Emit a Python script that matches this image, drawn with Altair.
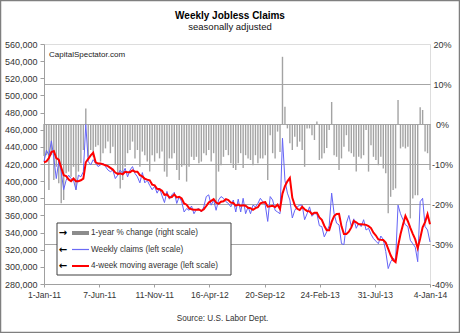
import altair as alt
import pandas as pd

# ---------------- data ----------------
first_week = "2011-01-01"          # weekly observations, week-ending dates
n_weeks = 158

# weekly initial claims, thousands (blue, left scale)
weekly_claims = [
    423, 436, 430, 447, 427, 403, 423, 411, 390, 401,
    407, 403, 401, 390, 407, 405, 411, 466, 423, 419,
    425, 421, 417, 419, 421, 417, 413, 411, 413, 403,
    407, 413, 409, 415, 405, 413, 417, 409, 405, 398,
    410, 398, 401, 395, 390, 394, 386, 392, 383, 375,
    388, 379, 384, 387, 374, 382, 376, 364, 368, 366,
    371, 362, 367, 368, 364, 370, 382, 384, 372, 378,
    366, 378, 382, 380, 376, 374, 370, 378, 364, 379,
    364, 380, 362, 370, 362, 372, 370, 374, 380, 376,
    372, 353, 382, 378, 366, 364, 362, 450, 401, 386,
    378, 357, 366, 370, 372, 372, 355, 362, 370, 359,
    362, 362, 348, 347, 335, 341, 348, 386, 362, 351,
    349, 327, 326, 351, 360, 347, 356, 345, 351, 347,
    355, 343, 345, 338, 333, 330, 327, 336, 332, 318,
    298, 306, 310, 308, 372, 362, 355, 349, 347, 331,
    327, 323, 306, 376, 380, 347, 343, 329,
]

# 4-week moving average, thousands (red, left scale)
moving_avg_4wk = [
    422, 423, 427, 434, 435, 427, 425, 416, 407, 406,
    402, 400, 403, 400, 400, 401, 403, 422, 426, 430,
    433, 422, 420.5, 420.5, 419.5, 418.5, 417.5, 415.5, 413.5, 410,
    408.5, 409, 408, 411, 410.5, 410.5, 412.5, 411, 411, 407,
    405.5, 402.75, 401.75, 401, 396, 395, 391, 390.5, 388.75, 384,
    384.5, 381, 381.5, 384.5, 381, 381.75, 379.75, 374, 372.5, 368.5,
    367.25, 366.75, 366.5, 367, 365.25, 367.25, 371, 375, 377, 379,
    375, 373.5, 376, 376.5, 379, 378, 375, 374.5, 371.5, 372.75,
    371.25, 371.75, 371.25, 369, 368.5, 366.5, 368.5, 369.5, 374, 375,
    375.5, 370.25, 370.75, 371.25, 369.75, 372.5, 367.5, 385.5, 394.25, 399.75,
    403.75, 380.5, 371.75, 367.75, 366.25, 370, 367.25, 365.25, 364.75, 361.5,
    363.25, 363.25, 357.75, 354.75, 348, 342.75, 342.75, 352.5, 359.25, 361.75,
    362, 347.25, 338.25, 338.25, 341, 346, 353.5, 352, 349.75, 349.75,
    349.5, 349, 347.5, 345.25, 339.75, 336.5, 332, 331.5, 331.25, 328.25,
    321, 313.5, 308, 305.5, 324, 338, 349.25, 359.5, 353.25, 345.5,
    338.5, 332, 321.75, 333, 346.25, 352.25, 361.5, 349.75,
]

# 1-year % change of weekly claims (gray bars, right scale)
yoy_pct_change = [
    -8, -7.8, -16.5, -7.8, -14, -10.7, -14.8, -19.8, -19, -12.3,
    -11.9, -13.2, -10.7, -16.5, -11.9, -9.8, -6.5, 3.9, -8.2, -6.5,
    -8.2, -5.7, -5.3, -9.4, -7.3, -6.1, -4.4, -7.3, -5.7, -10.3,
    -12.8, -16.1, -14, -10.7, -7.3, -6.5, -4.4, -8.6, -6.5, -10.7,
    -6.9, -7.8, -9.4, -11.9, -7.8, -9.4, -7.3, -8.6, -6.9, -11.9,
    -13.2, -8.6, -8.6, -7.3, -11.5, -14, -10.7, -10.3, -14.4, -10.7,
    -8.2, -9, -8.2, -9.8, -9.4, -7.3, -7.8, -6.5, -9.4, -7.3,
    -20, -11.9, -10.3, -8.2, -6.5, -7.8, -9.8, -11, -11.5, -9.8,
    -7.3, -11, -7.8, -8.6, -9, -10.3, -7.8, -9.8, -8.6, -8.6,
    -7.8, -14, -2.8, -7.3, -8.6, -1.9, -7, 16.8, 4.3, -1.1,
    -4.8, -6.5, -3.2, -5.7, -4.4, -6.5, -10.7, -1.1, -1.1, -2.8,
    -4, 0.6, -9, -8.6, -7.3, -6, -1.5, 5.5, -7.8, -8.2,
    -11.5, -8.6, -5.7, -2.8, -6.9, -7.3, -8.2, -11.9, -8.2, -8.6,
    -7.8, -1.5, -11.9, -5.3, -8.2, -9, -10.3, -8.2, -11.1, -12.3,
    -22.3, -18.2, -16.5, -16.1, 6, -6.1, -5.7, -6.1, -5.7, -23.6,
    -18.6, -17.8, -17.8, 4.2, 3.5, -6.9, -7.3, -11.5,
]

x_tick_dates = ["2011-01-01", "2011-06-07", "2011-11-11", "2012-04-16",
                "2012-09-20", "2013-02-24", "2013-07-31", "2014-01-04"]
left_ticks = list(range(280000, 560001, 20000))
right_ticks = [20, 10, 0, -10, -20, -30, -40]
legend_labels = ["1-year % change (right scale)",
                 "Weekly claims (left scale)",
                 "4-week moving average (left scale)"]
title_text = "Weekly Jobless Claims"
subtitle_text = "seasonally adjusted"
source_text = "Source: U.S. Labor Dept."
watermark_text = "CapitalSpectator.com"

# ---------------- table ----------------
dates = pd.date_range(first_week, periods=n_weeks, freq="7D").strftime("%Y-%m-%d")
df = pd.DataFrame({
    "date": dates,
    "claims": [v * 1000 for v in weekly_claims],
    "ma": [v * 1000 for v in moving_avg_4wk],
    "pct": yoy_pct_change,
})


def dt(s):
    t = pd.Timestamp(s)
    return alt.DateTime(year=t.year, month=t.month, date=t.day, utc=True)


FONT = "Liberation Sans"

x_scale = alt.Scale(type="utc", domain=[dt(x_tick_dates[0]), dt(x_tick_dates[-1])], nice=False)
x_axis = alt.Axis(
    values=[dt(s) for s in x_tick_dates],
    labelExpr="utcFormat(datum.value, '%-d-%b-%y')",
    labelFontSize=8.5, labelColor="#333333", labelFont=FONT,
    tickColor="#a0a0a0", tickSize=3, domainColor="#a0a0a0", labelPadding=3,
    grid=False, labelFlush=False, labelOverlap=False,
    title=source_text, titleFont=FONT, titleFontSize=8.2, titleFontWeight="normal",
    titleColor="#333333", titleX=178, titleY=34, titleBaseline="middle",
    titleAnchor="middle",
)

left_scale = alt.Scale(domain=[280000, 560000], nice=False, zero=False)
left_axis = alt.Axis(
    values=left_ticks, labelExpr="format(datum.value, ',')", orient="left", title=None,
    labelFontSize=9, labelColor="#333333", labelFont=FONT,
    tickColor="#a0a0a0", tickSize=4, labelPadding=3,
    domainColor="#a0a0a0", grid=False,
)

bars = alt.Chart(df).mark_rule(color="#a3a3a3", strokeWidth=1.4).encode(
    x=alt.X("date:T", scale=x_scale, axis=x_axis),
    y=alt.Y(
        "pct:Q",
        scale=alt.Scale(domain=[-40, 20], nice=False, zero=False),
        axis=alt.Axis(
            orient="right", values=right_ticks, labelExpr="datum.value + '%'",
            title=None, labelFontSize=9, labelColor="#333333", labelFont=FONT,
            ticks=False, tickSize=0, labelPadding=12, labelAlign="center",
            domain=False, grid=True, gridWidth=1,
            gridColor={"condition": {"test": "datum.value === 20 || datum.value === -40",
                                     "value": "transparent"},
                       "value": "#a6a6a6"},
        ),
    ),
    y2=alt.datum(0),
)

blue = alt.Chart(df).mark_line(color="#6464f6", strokeWidth=1).encode(
    x=alt.X("date:T", scale=x_scale, axis=None),
    y=alt.Y("claims:Q", scale=left_scale, axis=left_axis),
)
red = alt.Chart(df).mark_line(color="#ff0000", strokeWidth=2).encode(
    x=alt.X("date:T", scale=x_scale, axis=None),
    y=alt.Y("ma:Q", scale=left_scale, axis=None),
)
lines = alt.layer(blue, red).resolve_axis(y="independent", x="independent")
main = alt.layer(bars, lines).resolve_scale(y="independent").resolve_axis(x="independent")

one = pd.DataFrame({"k": [0]})

# legend (hand drawn box like the original)
leg_box = alt.Chart(one).mark_rect(fill="white", stroke="#404040", strokeWidth=1).encode(
    x=alt.value(13), x2=alt.value(187), y=alt.value(179), y2=alt.value(231)
)
row_y = [189, 205.5, 222]
arrows = ["\u2192", "\u2190", "\u2190"]
sw_colors = ["#8c8c8c", "#6a6af5", "#ff0000"]
sw_widths = [4, 1.2, 2]
legend_layers = [leg_box]
for i in range(3):
    legend_layers.append(
        alt.Chart(pd.DataFrame({"t": [arrows[i]]})).mark_text(
            font="DejaVu Sans", fontSize=10, fontWeight="bold", align="center",
            baseline="middle", color="#000000"
        ).encode(text="t:N", x=alt.value(19), y=alt.value(row_y[i]))
    )
    legend_layers.append(
        alt.Chart(one).mark_rule(color=sw_colors[i], strokeWidth=sw_widths[i]).encode(
            x=alt.value(28), x2=alt.value(45), y=alt.value(row_y[i])
        )
    )
    legend_layers.append(
        alt.Chart(pd.DataFrame({"t": [legend_labels[i]]})).mark_text(
            font=FONT, fontSize=8.2, align="left", baseline="middle", color="#333333"
        ).encode(text="t:N", x=alt.value(47), y=alt.value(row_y[i]))
    )

watermark = alt.Chart(pd.DataFrame({"t": [watermark_text]})).mark_text(
    font=FONT, fontSize=8, align="left", baseline="middle", color="#222222"
).encode(text="t:N", x=alt.value(5), y=alt.value(11))

title_mark = alt.Chart(pd.DataFrame({"t": [title_text]})).mark_text(
    font=FONT, fontSize=10, fontWeight="bold", align="center", baseline="middle", color="#000000"
).encode(text="t:N", x=alt.value(186), y=alt.value(-28))

subtitle_mark = alt.Chart(pd.DataFrame({"t": [subtitle_text]})).mark_text(
    font=FONT, fontSize=9.5, align="center", baseline="middle", color="#111111"
).encode(text="t:N", x=alt.value(186), y=alt.value(-17))

frame = alt.Chart(one).mark_rect(fill="white", fillOpacity=0, stroke="#7f7f7f", strokeWidth=1.5).encode(
    x=alt.value(-43.5), x2=alt.value(415.5), y=alt.value(-43.5), y2=alt.value(288.5)
)

chart = alt.layer(main, watermark, title_mark, subtitle_mark, *legend_layers, frame).properties(
    width=386,
    height=240,
    padding={"left": 44, "top": 44, "right": 30, "bottom": 49},
    autosize=alt.AutoSizeParams(type="none"),
).configure_view(stroke="#d9d9d9").configure(background="white")

chart.save("out.html", embed_options={"renderer": "svg", "actions": False})
